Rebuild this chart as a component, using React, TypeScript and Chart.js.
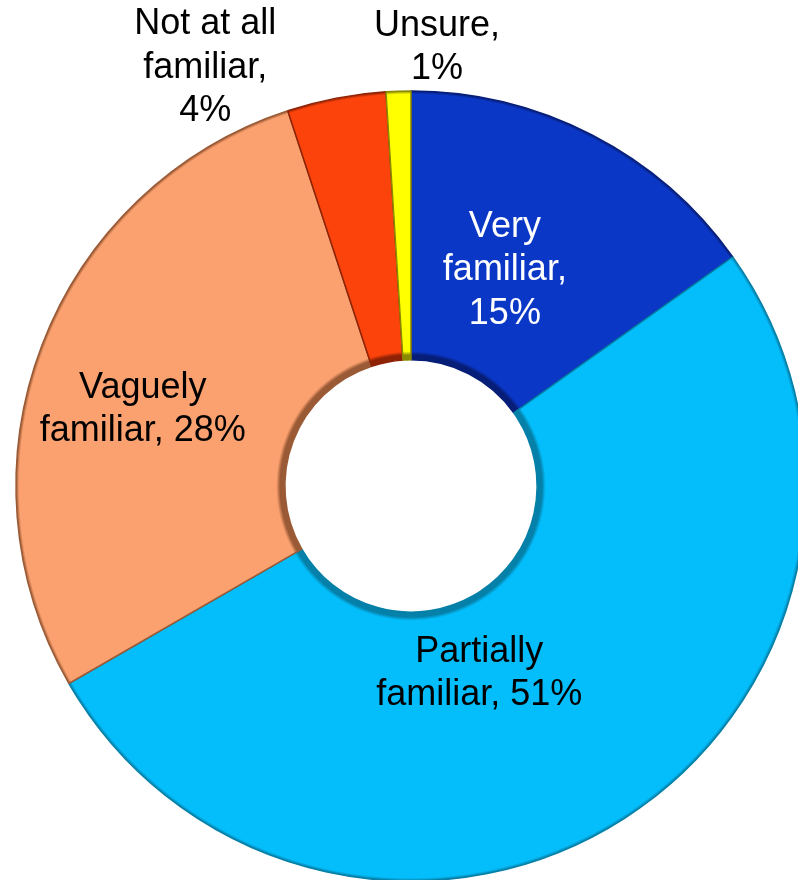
import React, { useEffect, useRef } from "react";
import { Chart, registerables } from "chart.js";

Chart.register(...registerables);

// ---- data ----
const categories = ["Very familiar", "Partially familiar", "Vaguely familiar", "Not at all familiar", "Unsure"];
const values = [15, 51, 28, 4, 1];
const labelLines = [
  ["Very", "familiar,", "15%"],
  ["Partially", "familiar, 51%"],
  ["Vaguely", "familiar, 28%"],
  ["Not at all", "familiar,", "4%"],
  ["Unsure,", "1%"],
];

// ---- styles ----
const OUTER_R = 395;
const INNER_R = 131;
const baseColors = ["#0B37C6", "#04BEFB", "#FBA06F", "#FC430C", "#FFFF00"];
const edgeColors = ["#061E78", "#0580A8", "#9A5A35", "#8E2205", "#8A8A00"];
const labelColors = ["#FFFFFF", "#000000", "#000000", "#000000", "#000000"];
// label placement: angle (deg clockwise from top) and distance as fraction of outer radius
const labelLayout = [
  { angle: 23.5, dist: 0.596 },
  { angle: 160, dist: 0.505 },
  { angle: 285.9, dist: 0.706 },
  { angle: 333.8, dist: 1.18 },
  { angle: 3.4, dist: 1.112 },
];
const FONT_SIZE = 36;
const LINE_H = 43.5;

const labelPlugin = {
  id: "sliceLabels",
  afterDatasetsDraw(chart: any) {
    const meta = chart.getDatasetMeta(0);
    const first = meta.data[0];
    if (!first) return;
    const cx = first.x;
    const cy = first.y;
    const R = first.outerRadius;
    const ctx = chart.ctx;
    ctx.save();
    ctx.font = `${FONT_SIZE}px "Liberation Sans", Arial, sans-serif`;
    ctx.textAlign = "center";
    ctx.textBaseline = "middle";
    labelLines.forEach((lines, i) => {
      const lay = labelLayout[i];
      const a = (lay.angle * Math.PI) / 180;
      const x = cx + Math.sin(a) * R * lay.dist;
      const y = cy - Math.cos(a) * R * lay.dist;
      ctx.fillStyle = labelColors[i];
      const y0 = y - ((lines.length - 1) * LINE_H) / 2;
      lines.forEach((ln, j) => ctx.fillText(ln, x, y0 + j * LINE_H));
    });
    ctx.restore();
  },
};

function sliceFill(context: any) {
  const i = context.dataIndex;
  const chart = context.chart;
  const area = chart.chartArea;
  if (!area) return baseColors[i];
  const x = (area.left + area.right) / 2;
  const y = (area.top + area.bottom) / 2;
  const g = chart.ctx.createRadialGradient(x, y, INNER_R, x, y, OUTER_R);
  g.addColorStop(0, edgeColors[i]);
  g.addColorStop(0.014, baseColors[i]);
  g.addColorStop(0.988, baseColors[i]);
  g.addColorStop(1, edgeColors[i]);
  return g;
}

export default function App() {
  const ref = useRef<HTMLCanvasElement | null>(null);
  useEffect(() => {
    document.body.style.margin = "0";
    if (!ref.current) return;
    const chart = new Chart(ref.current, {
      type: "doughnut",
      data: {
        labels: categories,
        datasets: [
          {
            data: values,
            backgroundColor: sliceFill as any,
            borderColor: edgeColors,
            borderWidth: 1.5,
          },
        ],
      },
      options: {
        responsive: false,
        animation: false,
        events: [],
        rotation: 0,
        radius: OUTER_R,
        cutout: INNER_R,
        layout: { padding: 0 },
        plugins: {
          legend: { display: false },
          tooltip: { enabled: false },
        },
      },
      plugins: [labelPlugin],
    });
    return () => chart.destroy();
  }, []);
  return (
    <div style={{ position: "fixed", left: 0, top: 0, width: 798, height: 880, overflow: "hidden", background: "#fff" }}>
      <canvas ref={ref} width={822} height={972} style={{ display: "block", width: 822, height: 972 }} />
    </div>
  );
}
